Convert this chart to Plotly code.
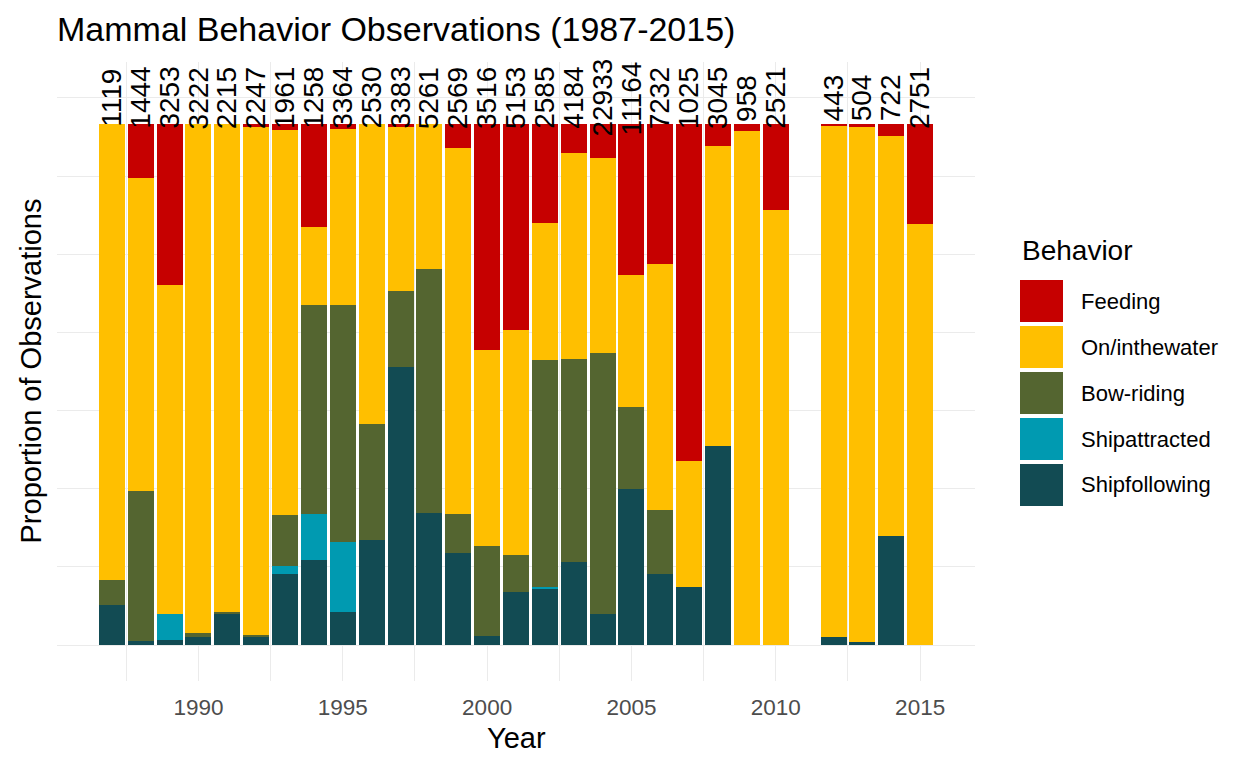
import plotly.graph_objects as go

years = [1987, 1988, 1989, 1990, 1991, 1992, 1993, 1994, 1995, 1996, 1997, 1998, 1999, 2000,
         2001, 2002, 2003, 2004, 2005, 2006, 2007, 2008, 2009, 2010, 2012, 2013, 2014, 2015]
totals = [1119, 1444, 3253, 3222, 2215, 2247, 1961, 1258, 3364, 2530, 3383, 5261, 2569, 3516,
          5153, 2585, 4184, 22933, 11164, 7232, 1025, 3045, 958, 2521, 443, 504, 722, 2751]

# proportions per behaviour (bottom of the stack first)
shipfollowing = [0.076, 0.007, 0.009, 0.015, 0.061, 0.017, 0.136, 0.163, 0.063, 0.201, 0.533, 0.253, 0.176, 0.017,
                 0.101, 0.109, 0.159, 0.059, 0.299, 0.136, 0.111, 0.382, 0.0, 0.0, 0.015, 0.005, 0.209, 0.0]
shipattracted = [0.0, 0.0, 0.050, 0.0, 0.0, 0.0, 0.015, 0.088, 0.134, 0.0, 0.0, 0.0, 0.0, 0.0,
                 0.0, 0.002, 0.0, 0.0, 0.0, 0.0, 0.0, 0.0, 0.0, 0.0, 0.0, 0.0, 0.0, 0.0]
bowriding = [0.048, 0.288, 0.0, 0.008, 0.002, 0.002, 0.098, 0.401, 0.455, 0.223, 0.146, 0.468, 0.075, 0.173,
             0.071, 0.436, 0.390, 0.501, 0.157, 0.123, 0.0, 0.0, 0.0, 0.0, 0.0, 0.0, 0.0, 0.0]
inwater = [0.876, 0.602, 0.632, 0.977, 0.937, 0.976, 0.739, 0.151, 0.338, 0.576, 0.316, 0.279, 0.703, 0.376,
           0.432, 0.263, 0.395, 0.375, 0.254, 0.472, 0.242, 0.576, 0.987, 0.835, 0.983, 0.989, 0.768, 0.808]
feeding = [0.0, 0.103, 0.309, 0.0, 0.0, 0.005, 0.012, 0.197, 0.010, 0.0, 0.005, 0.0, 0.046, 0.434,
           0.396, 0.190, 0.056, 0.065, 0.290, 0.269, 0.647, 0.042, 0.013, 0.165, 0.002, 0.006, 0.023, 0.192]

series = [
    ("Shipfollowing", shipfollowing, "#124B53"),
    ("Shipattracted", shipattracted, "#009AB1"),
    ("Bow-riding", bowriding, "#546530"),
    ("On/inthewater", inwater, "#FFBF00"),
    ("Feeding", feeding, "#C60000"),
]

FONT = "Liberation Sans, Arial, sans-serif"
OFF = 8                       # page body margin of the html file
W, H = 1248 - OFF, 768 - OFF
L, R, T, B = 57 - OFF, 975 - OFF, 62 - OFF, 681 - OFF   # plot area


def px(x, y):
    # screen pixel -> paper coords
    return (x - OFF - L) / (R - L), (B - (y - OFF)) / (B - T)


fig = go.Figure()
for name, vals, color in series:
    fig.add_trace(go.Bar(x=years, y=vals, name=name, width=0.9,
                         marker=dict(color=color, line=dict(width=0)),
                         showlegend=False))

annotations = []
for yr, n in zip(years, totals):
    annotations.append(dict(x=yr, y=1.05, xref="x", yref="y", text=str(n), textangle=-90,
                            showarrow=False, xanchor="center", yanchor="middle",
                            font=dict(family=FONT, size=28, color="black")))

# axis titles
annotations.append(dict(x=0.5, y=px(0, 738)[1], xref="paper", yref="paper", text="Year",
                        showarrow=False, xanchor="center", yanchor="middle",
                        font=dict(family=FONT, size=29, color="black")))
annotations.append(dict(x=px(30, 0)[0], y=0.5, xref="paper", yref="paper",
                        text="Proportion of Observations", textangle=-90,
                        showarrow=False, xanchor="center", yanchor="middle",
                        font=dict(family=FONT, size=29, color="black")))

# legend drawn by hand to get ggplot-sized keys
shapes = []
lx, ly = px(1020, 251)
annotations.append(dict(x=lx, y=ly, xref="paper", yref="paper", text="Behavior",
                        showarrow=False, xanchor="left", yanchor="middle",
                        font=dict(family=FONT, size=28, color="black")))
for i, (name, vals, color) in enumerate(reversed(series)):
    top = 280 + i * 46
    x0, y0 = px(1020, top + 42)
    x1, y1 = px(1063, top)
    shapes.append(dict(type="rect", xref="paper", yref="paper", x0=x0, y0=y0, x1=x1, y1=y1,
                       fillcolor=color, line=dict(width=0)))
    tx, ty = px(1079, top + 21)
    annotations.append(dict(x=tx, y=ty, xref="paper", yref="paper", text=name,
                            showarrow=False, xanchor="left", yanchor="middle",
                            font=dict(family=FONT, size=22, color="black")))

fig.update_layout(
    width=W, height=H,
    margin=dict(l=L, r=W - R, t=T, b=H - B),
    paper_bgcolor="white", plot_bgcolor="white",
    barmode="stack", bargap=0,
    title=dict(text="Mammal Behavior Observations (1987-2015)", x=L / W, xref="container",
               xanchor="left", y=1 - (29 - OFF) / H, yref="container", yanchor="middle",
               font=dict(family=FONT, size=34, color="black")),
    xaxis=dict(range=[1985.1, 2016.9], tickvals=[1990, 1995, 2000, 2005, 2010, 2015],
               showgrid=True, gridcolor="#EBEBEB", gridwidth=1.1, zeroline=False,
               ticks="outside", ticklen=6, tickcolor="rgba(0,0,0,0)",
               tickfont=dict(family=FONT, size=22.5, color="#4D4D4D"),
               minor=dict(tick0=1987.5, dtick=2.5, showgrid=True, gridcolor="#EBEBEB", gridwidth=0.55),
               showline=False, fixedrange=True),
    yaxis=dict(range=[-0.069, 1.119], tick0=0, dtick=0.3, showticklabels=False,
               showgrid=True, gridcolor="#EBEBEB", gridwidth=1.1, zeroline=False,
               minor=dict(tick0=0.15, dtick=0.3, showgrid=True, gridcolor="#EBEBEB", gridwidth=0.55),
               showline=False, fixedrange=True),
    annotations=annotations,
    shapes=shapes,
)

fig.write_html("out.html")
